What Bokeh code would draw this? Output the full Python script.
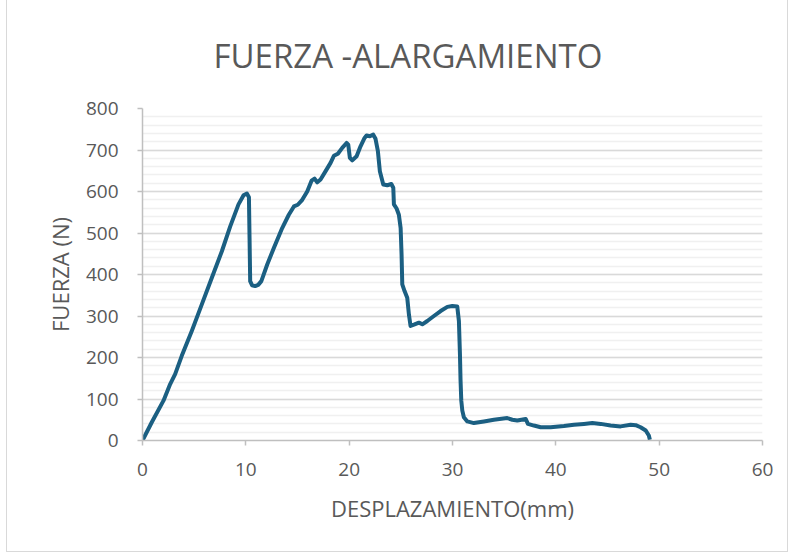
from bokeh.plotting import figure
from bokeh.models import Range1d, SingleIntervalTicker
from bokeh.embed import file_html
from bokeh.resources import INLINE

desplazamiento = [0, 0.9, 2.03, 2.68, 3.16, 3.8, 4.77, 5.74, 6.71, 7.68, 8.49, 9.29, 9.78, 10.1, 10.3,
                  10.36, 10.42, 10.6, 10.9, 11.2, 11.5, 12.07, 12.71, 13.52, 14.16, 14.65, 15.03, 15.46,
                  15.94, 16.36, 16.65, 16.91, 17.23, 17.72, 18.2, 18.52, 18.91, 19.33, 19.75, 19.91,
                  20.07, 20.3, 20.72, 21.1, 21.49, 21.68, 22.0, 22.33, 22.55, 22.78, 22.97, 23.3, 23.69,
                  24.08, 24.27, 24.33, 24.59, 24.81, 24.98, 25.07, 25.14, 25.36, 25.62, 25.78, 25.94,
                  26.27, 26.75, 27.08, 27.56, 28.2, 28.85, 29.5, 29.98, 30.46, 30.62, 30.72, 30.78,
                  30.85, 30.95, 31.1, 31.43, 32.07, 33.04, 34.0, 35.3, 35.79, 36.27, 37.08, 37.3, 37.88,
                  38.53, 39.5, 40.78, 41.75, 42.72, 43.53, 44.34, 45.3, 46.27, 47.24, 47.73, 48.2, 48.7,
                  49.0, 49.1]
fuerza = [0, 44, 96, 136, 160, 204, 264, 328, 392, 456, 516, 569, 591, 595, 586,
          488, 384, 374, 372, 375, 384, 424, 464, 512, 544, 564, 568, 580,
          600, 626, 631, 622, 629, 649, 669, 686, 691, 705, 717, 713,
          681, 675, 685, 709, 729, 735, 733, 737, 727, 697, 649, 617, 615,
          618, 609, 569, 559, 544, 512, 449, 376, 360, 344, 304, 276,
          279, 284, 280, 288, 300, 312, 322, 324, 323, 288, 208, 144,
          96, 72, 56, 46, 42, 46, 50, 54, 50, 48, 52, 40, 36,
          32, 32, 35, 38, 40, 42, 40, 36, 34, 38, 37, 32, 24,
          12, 2]

title_text = "FUERZA -ALARGAMIENTO"
x_label = "DESPLAZAMIENTO(mm)"
y_label = "FUERZA (N)"

FONT = "Open Sans"
TXT = "#595959"

p = figure(width=782, height=552, output_backend="svg", toolbar_location=None,
           x_range=Range1d(0, 60), y_range=Range1d(0, 800),
           min_border_left=135, min_border_right=27, min_border_top=107, min_border_bottom=112,
           title=title_text, margin=(0, 0, 0, 6))
p.styles = {"border": "1px solid #d9d9d9", "border-top": "none"}
p.outline_line_color = None

p.title.text_font = FONT
p.title.text_font_size = "33px"
p.title.text_font_style = "normal"
p.title.text_color = TXT
p.title.align = "left"
p.title.offset = 71
p.title.standoff = 61

p.xaxis.ticker = SingleIntervalTicker(interval=10)
p.yaxis.ticker = SingleIntervalTicker(interval=100, num_minor_ticks=5)

for ax in (p.xaxis, p.yaxis):
    ax.axis_line_color = "#bfbfbf"
    ax.axis_line_width = 1.5
    ax.major_tick_line_color = "#bfbfbf"
    ax.major_tick_line_width = 1.5
    ax.major_tick_out = 5
    ax.major_tick_in = 0
    ax.minor_tick_line_color = None
    ax.major_label_text_font = FONT
    ax.major_label_text_font_size = "19px"
    ax.major_label_text_color = TXT
    ax.axis_label_text_font = FONT
    ax.axis_label_text_font_size = "22px"
    ax.axis_label_text_font_style = "normal"
    ax.axis_label_text_color = TXT

p.xaxis.axis_label = x_label
p.yaxis.axis_label = y_label
p.xaxis.major_label_standoff = 17
p.yaxis.major_label_standoff = 19
p.xaxis.axis_label_standoff = 14
p.yaxis.axis_label_standoff = 8

p.xgrid.grid_line_color = None
p.ygrid.grid_line_color = "#d9d9d9"
p.ygrid.grid_line_width = 1.5
p.ygrid.minor_grid_line_color = "#f0f0f0"
p.ygrid.minor_grid_line_width = 1.5

p.line(desplazamiento, fuerza, line_color="#1b5f82", line_width=4, line_join="round")

open("out.html", "w").write(file_html(p, INLINE))
